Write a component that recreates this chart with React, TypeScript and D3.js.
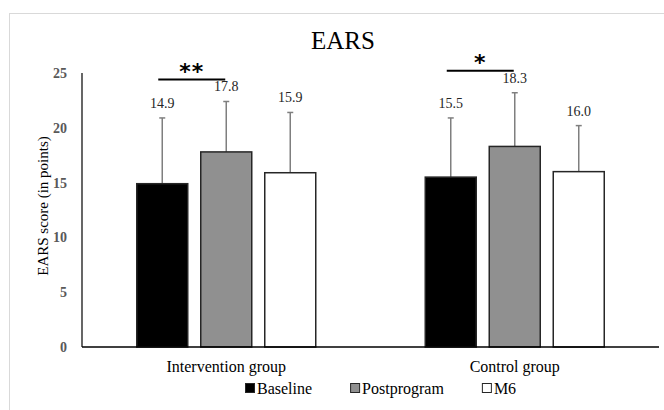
import React, { useRef, useEffect } from 'react'
import * as d3 from 'd3'

const groups = ['Intervention group', 'Control group']
const series = ['Baseline', 'Postprogram', 'M6']
const colors = ['#000000', '#909090', '#ffffff']
// means per group, in series order
const means = [
  [14.9, 17.8, 15.9],
  [15.5, 18.3, 16.0]
]
// upper error (SD)
const sds = [
  [6.0, 4.6, 5.5],
  [5.4, 4.9, 4.2]
]
const yTicks = [0, 5, 10, 15, 20, 25]
const signif = ['**', '*']

export default function App() {
  const canvas = useRef<SVGSVGElement>(null)

  useEffect(() => {
    const svg = d3.select(canvas.current)
    svg.selectAll('*').remove()
    const font = "'Liberation Serif', 'Times New Roman', serif"

    const margin = { top: 73, right: 5, bottom: 63, left: 82 }
    const W = 664, H = 410
    const width = W - margin.left - margin.right
    const height = H - margin.top - margin.bottom

    // frame
    svg.append('rect')
      .attr('x', 9.5).attr('y', 13.5)
      .attr('width', 700).attr('height', 420)
      .attr('fill', 'white').attr('stroke', '#d9d9d9')

    svg.append('text')
      .attr('x', 343).attr('y', 49)
      .attr('text-anchor', 'middle')
      .attr('font-family', font).attr('font-size', 25)
      .text('EARS')

    const g = svg.append('g').attr('transform', `translate(${margin.left},${margin.top})`)

    const x0 = d3.scaleBand().domain(groups).range([0, width]).paddingInner(0).paddingOuter(0)
    const y = d3.scaleLinear().domain([0, 25]).range([height, 0])
    const barW = 51
    const step = 64
    const barX = (gi: number, si: number) =>
      x0(groups[gi])! + x0.bandwidth() / 2 + (si - 1) * step - barW / 2

    // y tick labels
    g.selectAll('.ytick').data(yTicks).enter().append('text')
      .attr('x', -15).attr('y', d => y(d) + 5)
      .attr('text-anchor', 'end')
      .attr('font-family', font).attr('font-size', 14).attr('font-weight', 'bold')
      .attr('fill', '#595959')
      .text(d => d)

    svg.append('text')
      .attr('transform', `translate(48,${margin.top + height / 2 - 4}) rotate(-90)`)
      .attr('text-anchor', 'middle')
      .attr('font-family', font).attr('font-size', 15)
      .text('EARS score (in points)')

    // bars
    means.forEach((row, gi) => {
      row.forEach((v, si) => {
        const bx = barX(gi, si)
        const cx = bx + barW / 2
        const top = y(v + sds[gi][si])
        g.append('line')
          .attr('x1', cx).attr('x2', cx).attr('y1', y(v)).attr('y2', top)
          .attr('stroke', '#7f7f7f').attr('stroke-width', 1.5)
        g.append('line')
          .attr('x1', cx - 3).attr('x2', cx + 3).attr('y1', top).attr('y2', top)
          .attr('stroke', '#7f7f7f').attr('stroke-width', 1.5)
        g.append('rect')
          .attr('x', bx).attr('y', y(v))
          .attr('width', barW).attr('height', height - y(v))
          .attr('fill', colors[si]).attr('stroke', '#262626').attr('stroke-width', 1.5)
        g.append('text')
          .attr('x', cx).attr('y', top - 10)
          .attr('text-anchor', 'middle')
          .attr('font-family', font).attr('font-size', 14)
          .attr('fill', '#262626')
          .text(v.toFixed(1))
      })
    })

    // significance brackets
    signif.forEach((s, gi) => {
      const xa = barX(gi, 0) + barW / 2 - 4
      const xb = barX(gi, 1) + barW / 2 - 1
      const topA = Math.max(...means[gi].map((v, i) => v + sds[gi][i]))
      const ly = y(topA) - 22
      g.append('line')
        .attr('x1', xa).attr('x2', xb).attr('y1', ly).attr('y2', ly)
        .attr('stroke', '#000').attr('stroke-width', 2)
      g.append('text')
        .attr('x', (xa + xb) / 2).attr('y', ly - 1)
        .attr('text-anchor', 'middle')
        .attr('font-family', "'DejaVu Sans', sans-serif").attr('font-size', 22).attr('font-weight', 'bold')
        .attr('letter-spacing', 1)
        .text(s)
    })

    // axes lines
    g.append('line').attr('x1', 0).attr('x2', 0).attr('y1', 0).attr('y2', height)
      .attr('stroke', '#000').attr('stroke-width', 1.2)
    g.append('line').attr('x1', 0).attr('x2', width - 0).attr('y1', height).attr('y2', height)
      .attr('stroke', '#000').attr('stroke-width', 1.5)

    // category labels
    g.selectAll('.cat').data(groups).enter().append('text')
      .attr('x', d => x0(d)! + x0.bandwidth() / 2)
      .attr('y', height + 25)
      .attr('text-anchor', 'middle')
      .attr('font-family', font).attr('font-size', 16)
      .text(d => d)

    // legend
    const leg = svg.append('g').attr('transform', `translate(245,${H - 16})`)
    let lx = 0
    series.forEach((s, i) => {
      leg.append('rect')
        .attr('x', lx + 0.5).attr('y', -10.5).attr('width', 9).attr('height', 9)
        .attr('fill', colors[i]).attr('stroke', '#262626').attr('stroke-width', 1)
      const t = leg.append('text')
        .attr('x', lx + 12).attr('y', 0)
        .attr('font-family', font).attr('font-size', 16)
        .text(s)
      const tw = (t.node() as SVGTextElement).getComputedTextLength()
      lx += 12 + tw + 38
    })
  }, [])

  return (
    <svg ref={canvas} width={664} height={410}
      style={{ position: 'absolute', left: 0, top: 0, background: 'white' }} />
  )
}
